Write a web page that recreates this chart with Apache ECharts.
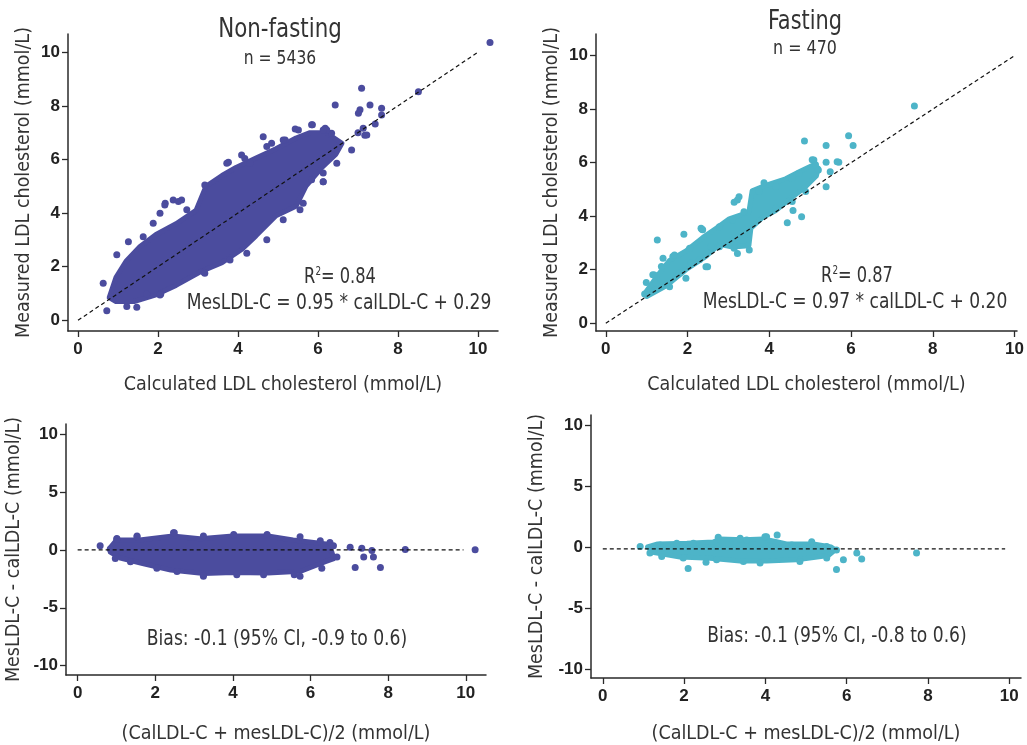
<!DOCTYPE html>
<html>
<head>
<meta charset="utf-8">
<script src="https://cdn.jsdelivr.net/npm/echarts@6/dist/echarts.min.js"></script>
<style>html,body{margin:0;padding:0;background:#fff}#c{width:1027px;height:745px}</style>
</head>
<body>
<div id="c"></div>
<script>
// ---------- data ----------
const scatterTicks = [0, 2, 4, 6, 8, 10];
const diffTicks = [-10, -5, 0, 5, 10];

// Non-fasting: dense core of the cloud (outline) and individual visible points
const nfCloud = [[0.78,0.85],[0.95,1.6],[1.2,2.2],[1.55,2.75],[1.95,3.2],[2.45,3.6],[2.95,4.1],[3.2,5.0],[3.6,5.4],[3.95,5.7],[4.45,6.05],[4.95,6.4],[5.45,6.8],[5.8,7.0],[6.2,7.0],[6.6,6.6],
  [6.45,6.2],[6.1,5.7],[5.7,5.0],[5.45,4.25],[4.95,3.9],[4.45,3.15],[4.1,2.65],[3.6,2.15],[3.05,1.8],[2.45,1.3],[1.95,0.95],[1.4,0.7],[0.95,0.7]];
const nfPoints = [[10.3,10.36],[7.09,8.66],[8.51,8.53],[6.43,8.03],[7.3,8.03],[7.59,7.91],[7.05,7.85],[7.01,7.72],[7.59,7.66],[7.43,7.32],[7.13,7.16],[7.0,7.0],[7.17,6.9],[7.22,6.91],[6.84,6.35],
  [5.43,7.14],[5.86,7.29],[6.18,7.16],[6.34,6.98],[6.22,7.1],[4.63,6.85],[5.18,6.73],[4.72,6.48],[4.09,6.17],[3.76,5.9],[4.3,5.86],[6.13,5.49],[5.84,5.24],[6.13,5.17],[5.63,4.37],
  [2.38,4.49],[2.59,4.49],[2.18,4.37],[2.05,3.99],[1.88,3.62],[1.26,2.93],[0.97,2.44],[0.63,1.38],[0.72,0.36],[1.47,0.49],[1.72,0.98],[2.07,0.98],[3.15,1.79],
  [1.63,3.12],[2.17,4.3],[2.51,4.43],[2.72,4.12],[3.17,5.05],[3.72,5.86],[4.17,6.04],[4.84,6.6],[5.13,6.73],[5.51,7.1],[5.84,7.29],[6.13,7.1],
  [1.22,0.51],[2.05,0.94],[3.17,1.75],[3.8,2.25],[4.22,2.5],[4.72,3.0],[5.13,3.75],[5.55,4.12],[6.13,5.17],[6.47,5.86]];

// Fasting
const fCloud = [[0.95,1.1],[1.25,1.75],[1.56,2.35],[1.96,2.7],[2.37,3.2],[2.7,3.55],[3.02,3.9],[3.5,4.15],[3.58,4.95],[3.91,5.15],[4.4,5.4],[4.72,5.65],[5.05,5.9],[5.2,5.8],[5.15,5.5],
  [4.85,5.05],[4.55,4.7],[4.15,4.2],[3.83,3.95],[3.55,3.55],[3.5,2.9],[3.1,2.85],[2.78,2.95],[2.45,2.5],[1.96,2.0],[1.48,1.4],[1.0,1.0]];
const fPoints = [[7.55,8.12],[5.94,7.01],[6.05,6.64],[4.86,6.81],[5.39,6.64],[5.09,6.1],[5.39,6.02],[5.7,6.02],[5.66,6.04],[5.49,5.66],[5.39,5.1],[3.87,5.25],[3.14,4.52],[3.26,4.73],[3.22,4.61],
  [2.35,3.51],[2.33,3.55],[1.91,3.33],[1.26,3.11],[0.99,1.52],[0.95,1.09],[1.19,1.8],[1.4,2.43],[1.64,2.49],[1.8,1.87],[3.22,2.61],[2.45,2.11],[2.49,2.11],[1.96,1.68],[4.44,3.76],[4.79,3.98],[4.58,4.21],
  [1.15,1.81],[1.36,2.12],[1.68,2.55],[2.05,2.8],[2.09,2.24],[2.29,2.37],[2.57,2.86],[2.37,3.49],[2.78,3.61],[3.1,3.86],[3.38,4.17],[3.75,4.92],[4.16,5.11],[4.56,5.42],[4.72,5.6],
  [5.05,6.11],[5.13,5.92],[5.2,5.73],[4.89,4.92],[4.56,4.55],[4.16,4.3],[3.51,2.74],[3.14,2.8],[2.78,2.86],[1.56,1.36],[1.23,1.49]];

// Bland-Altman, non-fasting
const baNfCloud = [[0.84,0.2],[1.0,0.85],[1.6,0.85],[2.45,1.2],[3.15,0.95],[4.0,1.2],[4.9,1.2],[5.55,0.85],[6.4,0.5],[6.55,-0.2],[6.6,-0.75],[6.4,-1.0],[5.75,-1.85],[4.9,-2.0],
  [4.0,-1.95],[3.25,-2.05],[2.4,-1.75],[1.7,-1.2],[1.1,-0.7],[0.84,-0.2]];
const baNfPoints = [[0.58,0.36],[10.24,0],[8.44,0.03],[7.02,0.22],[7.32,0.13],[7.58,-0.06],[7.37,-0.61],[7.62,-0.61],[7.15,-1.53],[7.8,-1.53],[1.01,0.97],[1.53,1.19],[2.49,1.47],
  [4.88,1.33],[6.5,0.64],[6.29,-1.58],[5.58,-2.14],[4.79,-2.14],[3.24,-2.14],
  [1.01,0.92],[1.53,1.14],[2.47,1.47],[3.24,1.19],[4.02,1.33],[5.73,1.14],[6.25,0.78],[6.59,0.36],[6.68,-0.61],[5.73,-2.28],[4.1,-2.14],[3.24,-2.28],[2.56,-1.86],[2.04,-1.58],[1.36,-1.03],[0.97,-0.75],[0.84,0.08]];

// Bland-Altman, fasting
const baFCloud = [[1.1,0.05],[1.35,0.3],[2.07,0.35],[2.72,0.45],[2.88,0.7],[3.46,0.65],[3.95,0.7],[4.25,0.5],[4.52,0.3],[5.18,0.3],[5.62,0.05],[5.72,-0.19],[5.55,-0.65],
  [4.77,-1.0],[4.03,-1.1],[3.38,-1.1],[2.64,-0.88],[1.9,-0.78],[1.26,-0.4]];
const baFPoints = [[0.92,0.08],[2.1,-1.72],[2.54,-1.21],[4.29,1.03],[4.03,0.89],[5.75,-1.8],[5.92,-0.99],[6.25,-0.45],[6.37,-0.94],[7.72,-0.45],[5.14,0.48],
  [1.16,-0.45],[1.41,0.22],[1.82,0.35],[2.23,0.35],[2.84,0.84],[3.38,0.76],[3.54,0.62],[3.99,0.89],[4.65,0.22],[5.51,0.08],[5.75,-0.19],[5.51,-0.86],[4.85,-1.13],[3.87,-1.26],[3.46,-1.13],[2.8,-0.99],[1.98,-0.86],[1.45,-0.73]];

// reference lines
const identityLine = [[0,0],[10,10]];
const nfZeroLine = [[0,0],[9.94,0]];
const fBiasLine = [[0,-0.1],[9.9,-0.1]];

// texts
const titles = ['Non-fasting', 'Fasting'];
const nLabels = ['n = 5436', 'n = 470'];
const r2Values = ['0.84', '0.87'];
const equations = ['MesLDL-C = 0.95 * calLDL-C + 0.29', 'MesLDL-C = 0.97 * calLDL-C + 0.20'];
const biasTexts = ['Bias: -0.1 (95% CI, -0.9 to 0.6)', 'Bias: -0.1 (95% CI, -0.8 to 0.6)'];
const xNames = ['Calculated LDL cholesterol (mmol/L)', '(CalLDL-C + mesLDL-C)/2 (mmol/L)'];
const yNames = ['Measured LDL cholesterol (mmol/L)', 'MesLDL-C - calLDL-C (mmol/L)'];

// ---------- styling ----------
const PURPLE = '#4b4c9e';
const TEAL = '#4db4c8';
const NARROW = "'DejaVu Sans Condensed','Roboto',sans-serif";
const BOLD = "'Liberation Sans','Arial',sans-serif";
const AX = '#2a2a2a';

const grids = [
  {left:68, top:34, width:430, height:297},
  {left:596, top:34, width:423, height:297},
  {left:66, top:424, width:420, height:260},
  {left:591, top:415, width:430, height:267}
];
const xRanges = [[-0.25,10.5],[-0.24,10.06],[-0.3,10.52],[-0.29,10.29]];
const yRanges = [[-0.4,10.68],[-0.29,10.81],[-10.8,10.86],[-10.68,10.86]];

function mkX(i){
  const ticks = scatterTicks;
  return {
    gridIndex:i, type:'value', min:xRanges[i][0], max:xRanges[i][1],
    name: xNames[i<2?0:1], nameLocation:'middle', nameGap: [44,44,49,46][i],
    nameTextStyle:{fontFamily:NARROW, fontSize:19.5, color:'#333'},
    axisLine:{show:true, onZero:false, lineStyle:{color:AX, width:1.5}},
    axisTick:{show:true, customValues:ticks, length:6, lineStyle:{color:AX, width:1.3}},
    axisLabel:{show:true, customValues:ticks, fontFamily:BOLD, fontWeight:'bold', fontSize:17, color:'#222', margin:10},
    splitLine:{show:false}
  };
}
function mkY(i){
  const ticks = i<2 ? scatterTicks : diffTicks;
  return {
    gridIndex:i, type:'value', min:yRanges[i][0], max:yRanges[i][1],
    name: yNames[i<2?0:1], nameLocation:'middle', nameGap: [34,34,42,44][i], nameRotate:90,
    nameTextStyle:{fontFamily:NARROW, fontSize:19.5, color:'#333'},
    axisLine:{show:true, onZero:false, lineStyle:{color:AX, width:1.5}},
    axisTick:{show:true, customValues:ticks, length:6, lineStyle:{color:AX, width:1.3}},
    axisLabel:{show:true, customValues:ticks, fontFamily:BOLD, fontWeight:'bold', fontSize:17, color:'#222', margin:8},
    splitLine:{show:false}
  };
}

function cloudSeries(i, pts, color){
  return {
    type:'custom', xAxisIndex:i, yAxisIndex:i, data:[0], silent:true, z:2,
    renderItem:function(params, api){
      return {type:'polygon', shape:{points: pts.map(p => api.coord(p))},
        style:{fill:color, stroke:color, lineWidth:5, lineJoin:'round'}};
    }
  };
}
function pointSeries(i, pts, color){
  return {type:'scatter', xAxisIndex:i, yAxisIndex:i, data:pts, symbolSize:7, silent:true, z:3,
    itemStyle:{color:color, opacity:1}};
}
function dashSeries(i, pts){
  return {type:'line', xAxisIndex:i, yAxisIndex:i, data:pts, symbol:'none', silent:true, z:5,
    lineStyle:{color:'#111', width:1.2, type:[4,3]}};
}

const txt = (x, y, text, size, sx) => ({
  type:'text', x:x, y:y, z:10, scaleX: sx || 1,
  style:{text:text, fontFamily:NARROW, fontSize:size, fill:'#333', align:'center', verticalAlign:'middle'}
});

const r2Text = (x, y, v) => ({
  type:'text', x:x, y:y, z:10, scaleX:0.82,
  style:{text:'R{s|2}= ' + v, fontFamily:NARROW, fontSize:22, fill:'#333', align:'center', verticalAlign:'middle',
    rich:{s:{fontFamily:NARROW, fontSize:12, fill:'#333', verticalAlign:'top', padding:[0,0,10,0]}}}
});

const option = {
  backgroundColor:'#fff',
  animation:false,
  grid: grids,
  xAxis: [0,1,2,3].map(mkX),
  yAxis: [0,1,2,3].map(mkY),
  series: [
    cloudSeries(0, nfCloud, PURPLE), pointSeries(0, nfPoints, PURPLE), dashSeries(0, identityLine),
    cloudSeries(1, fCloud, TEAL), pointSeries(1, fPoints, TEAL), dashSeries(1, identityLine),
    cloudSeries(2, baNfCloud, PURPLE), pointSeries(2, baNfPoints, PURPLE), dashSeries(2, nfZeroLine),
    cloudSeries(3, baFCloud, TEAL), pointSeries(3, baFPoints, TEAL), dashSeries(3, fBiasLine)
  ],
  graphic: [
    txt(280, 30, titles[0], 27, 0.88),
    txt(280, 59, nLabels[0], 19, 0.91),
    txt(805, 22, titles[1], 27, 0.86),
    txt(805, 49, nLabels[1], 19, 0.93),
    r2Text(340, 277, r2Values[0]),
    txt(339, 304, equations[0], 21, 0.905),
    r2Text(857, 276, r2Values[1]),
    txt(855, 303, equations[1], 21, 0.905),
    txt(277, 640, biasTexts[0], 21, 0.91),
    txt(837, 637, biasTexts[1], 21, 0.906)
  ]
};

const chart = echarts.init(document.getElementById('c'), null, {renderer:'canvas'});
chart.setOption(option);
</script>
</body>
</html>
